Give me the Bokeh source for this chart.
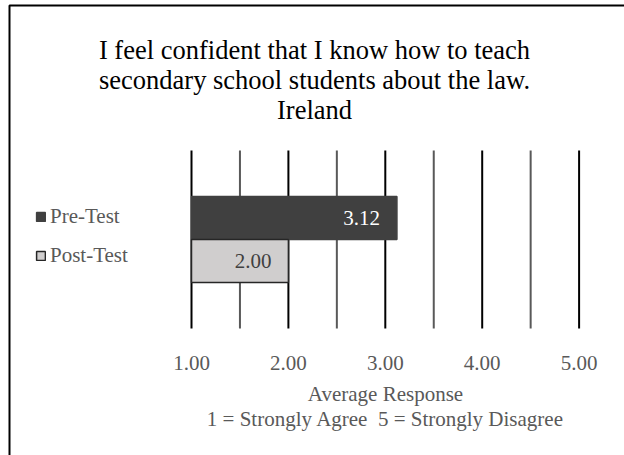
from bokeh.plotting import figure
from bokeh.models import (Range1d, Label, Legend, LegendItem, ColumnDataSource,
                          LabelSet, BoxAnnotation)
from bokeh.core.properties import value
from bokeh.embed import file_html
from bokeh.resources import INLINE

# ---- data ----
title_lines = ["I feel confident that I know how to teach",
               "secondary school students about the law.",
               "Ireland"]
series = ["Pre-Test", "Post-Test"]
values = [3.12, 2.00]
ticks = [1, 2, 3, 4, 5]
minor_ticks = [1.5, 2.5, 3.5, 4.5]
axis_title = ["Average Response", "1 = Strongly Agree \u00a05 = Strongly Disagree"]

# ---- styles / layout ----
bar_colors = ["#404040", "#d0cece"]
bar_lines = ["#404040", "#262626"]
label_colors = ["#ffffff", "#404040"]
FONT = "Liberation Serif"
GREY = "#595959"
W, H = 624, 455
X0_PX, PX_PER_UNIT = 191, 96.9          # where value 1.0 sits, scale
PLOT_TOP, PLOT_BOTTOM = 150, 328         # vertical extent of the plotting area (px from top)
BAR_H = 43                               # bar thickness in px

x_start = ticks[0] - X0_PX / PX_PER_UNIT
x_end = ticks[0] + (W - X0_PX) / PX_PER_UNIT

p = figure(width=W, height=H, output_backend="svg", toolbar_location=None,
           x_range=Range1d(x_start, x_end), y_range=Range1d(H, 0),
           x_axis_location=None, y_axis_location=None,
           min_border=0)
p.outline_line_color = None
p.grid.visible = False
p.background_fill_color = "white"
p.border_fill_color = "white"

# outer chart border (only left & top are inside the window)
p.add_layout(BoxAnnotation(left=9, right=W + 50, top=5, bottom=H + 50,
                           left_units="screen", right_units="screen",
                           fill_alpha=0, line_color="#000000", line_alpha=1,
                           line_width=2))

# gridlines
p.segment(x0=minor_ticks, x1=minor_ticks, y0=PLOT_TOP, y1=PLOT_BOTTOM,
          line_color=GREY, line_width=2)
p.segment(x0=ticks, x1=ticks, y0=PLOT_TOP, y1=PLOT_BOTTOM,
          line_color="#000000", line_width=2)

# bars
n = len(series)
center = (PLOT_TOP + PLOT_BOTTOM) / 2
renderers = []
for i in range(n):
    yc = center + (i - (n - 1) / 2) * BAR_H
    src = ColumnDataSource(dict(y=[yc], right=[values[i]], left=[ticks[0]],
                                lab=["%.2f" % values[i]]))
    r = p.hbar(y="y", left="left", right="right", height=BAR_H, source=src,
               fill_color=bar_colors[i], line_color=bar_lines[i],
               line_width=1.5)
    renderers.append(r)
    p.add_layout(LabelSet(x="right", y="y", text="lab", source=src, x_offset=-17,
                          text_align="right", text_baseline="middle",
                          text_font=value(FONT), text_font_size="21px",
                          text_color=label_colors[i]))

# tick labels
tsrc = ColumnDataSource(dict(x=ticks, lab=["%.2f" % t for t in ticks]))
p.text(x="x", y=362, text="lab", source=tsrc, text_align="center",
       text_baseline="alphabetic", text_font=value(FONT),
       text_font_size="21px", text_color=GREY)

# title
for k, t in enumerate(title_lines):
    p.add_layout(Label(x=314, y=49 + 30 * k, x_units="screen",
                       text=t, text_align="center", text_baseline="alphabetic",
                       text_font=FONT, text_font_size="26.5px", text_color="#000000"))

# axis title
for k, t in enumerate(axis_title):
    p.add_layout(Label(x=385, y=393 + 25 * k, x_units="screen",
                       text=t, text_align="center", text_baseline="alphabetic",
                       text_font=FONT, text_font_size="21px", text_color=GREY))

legend = Legend(items=[LegendItem(label=series[i], renderers=[renderers[i]])
                       for i in range(n)],
                location=(35, H - 268), margin=0, padding=0, spacing=14,
                glyph_width=11, glyph_height=11, label_standoff=4,
                label_height=25,
                label_text_font=FONT, label_text_font_size="21px",
                label_text_color=GREY, border_line_color=None,
                background_fill_alpha=0)
p.add_layout(legend, "center")

open("out.html", "w").write(file_html(p, INLINE))
